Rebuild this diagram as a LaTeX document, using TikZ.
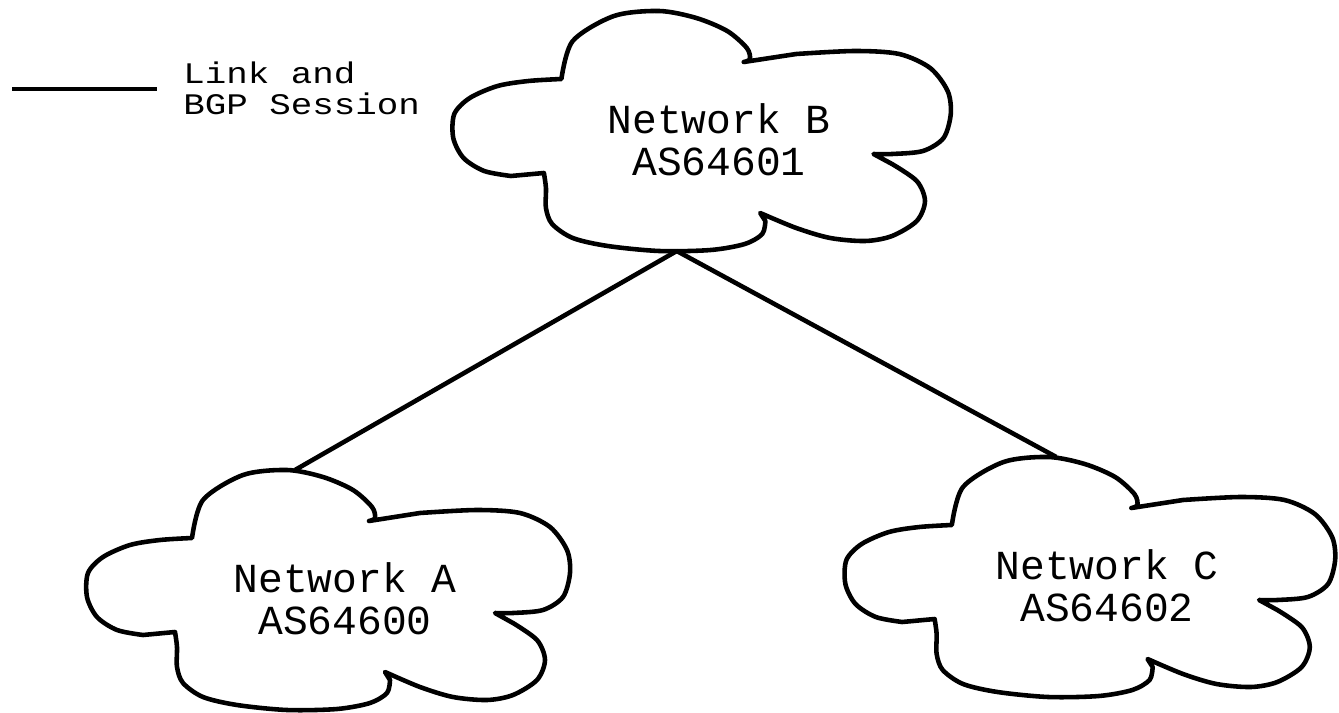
\documentclass[tikz,border=0pt]{standalone}
\usepackage{fontspec}
\setmonofont{Liberation Mono}
\newfontfamily\legendfont{Liberation Mono}[FakeStretch=1.2]
\usetikzlibrary{positioning}

\tikzset{
  cloudline/.style={line width=2.6pt, line join=round},
  linkline/.style={line width=2.6pt},
  netlabel/.style={font=\ttfamily\fontsize{23.5}{24}\selectfont, align=center},
  legendlabel/.style={font=\legendfont\fontsize{17}{17.5}\selectfont, align=left, inner sep=0pt},
  cloud/.pic={
    \draw[cloudline]
      plot[smooth] coordinates {(-153,-61) (-142,-99) (-102,-124) (-58,-129) (-22,-122) (8,-109) (27,-92) (30,-81) (24,-78)}
      -- plot[smooth] coordinates {(75,-86) (132,-89) (175,-86) (205,-72) (222,-49) (225,-26) (218,-2) (198,11) (168,14) (150,14)}
      -- plot[smooth] coordinates {(168,24) (192,41) (200,61) (192,81) (168,96) (142,101) (108,98) (75,88) (40,73)}
      -- plot[smooth] coordinates {(45,81) (42,94) (25,104) (-8,110) (-58,111) (-108,106) (-142,98) (-162,84) (-168,68) (-168,48) (-170,33)}
      -- plot[smooth] coordinates {(-202,36) (-228,31) (-248,18) (-258,-2) (-257,-26) (-242,-42) (-215,-54) (-185,-59) (-153,-61)}
      -- cycle;
    \coordinate (-top) at (-50,-129);
    \coordinate (-bot) at (-41,111);
  }
}

\begin{document}
\begin{tikzpicture}[x=0.02cm, y=-0.02cm]

    %\draw [help lines] (0,0) grid (1339,713);
    \useasboundingbox (0,0) rectangle (1339,713);

    \path   (345,599) node (netA) [netlabel] {Network A\\AS64600}
            (719,140) node (netB) [netlabel] {Network B\\AS64601}
            (1107,586) node (netC) [netlabel] {Network C\\AS64602};

    \pic (cloudA) at (netA) {cloud};
    \pic[xscale=1.03] (cloudB) at (netB) {cloud};
    \pic[xscale=1.014] (cloudC) at (netC) {cloud};

    \draw[linkline] (cloudB-bot) -- (cloudA-top);
    \draw[linkline] (cloudB-bot) -- (cloudC-top);

    % legend
    \coordinate (legL) at (12,89);
    \coordinate (legR) at (157,89);
    \draw[line width=2.6pt] (legL) -- (legR);
    \node[legendlabel, anchor=west] (legtext) at (183,88) {Link and\\BGP Session};

\end{tikzpicture}
\end{document}
